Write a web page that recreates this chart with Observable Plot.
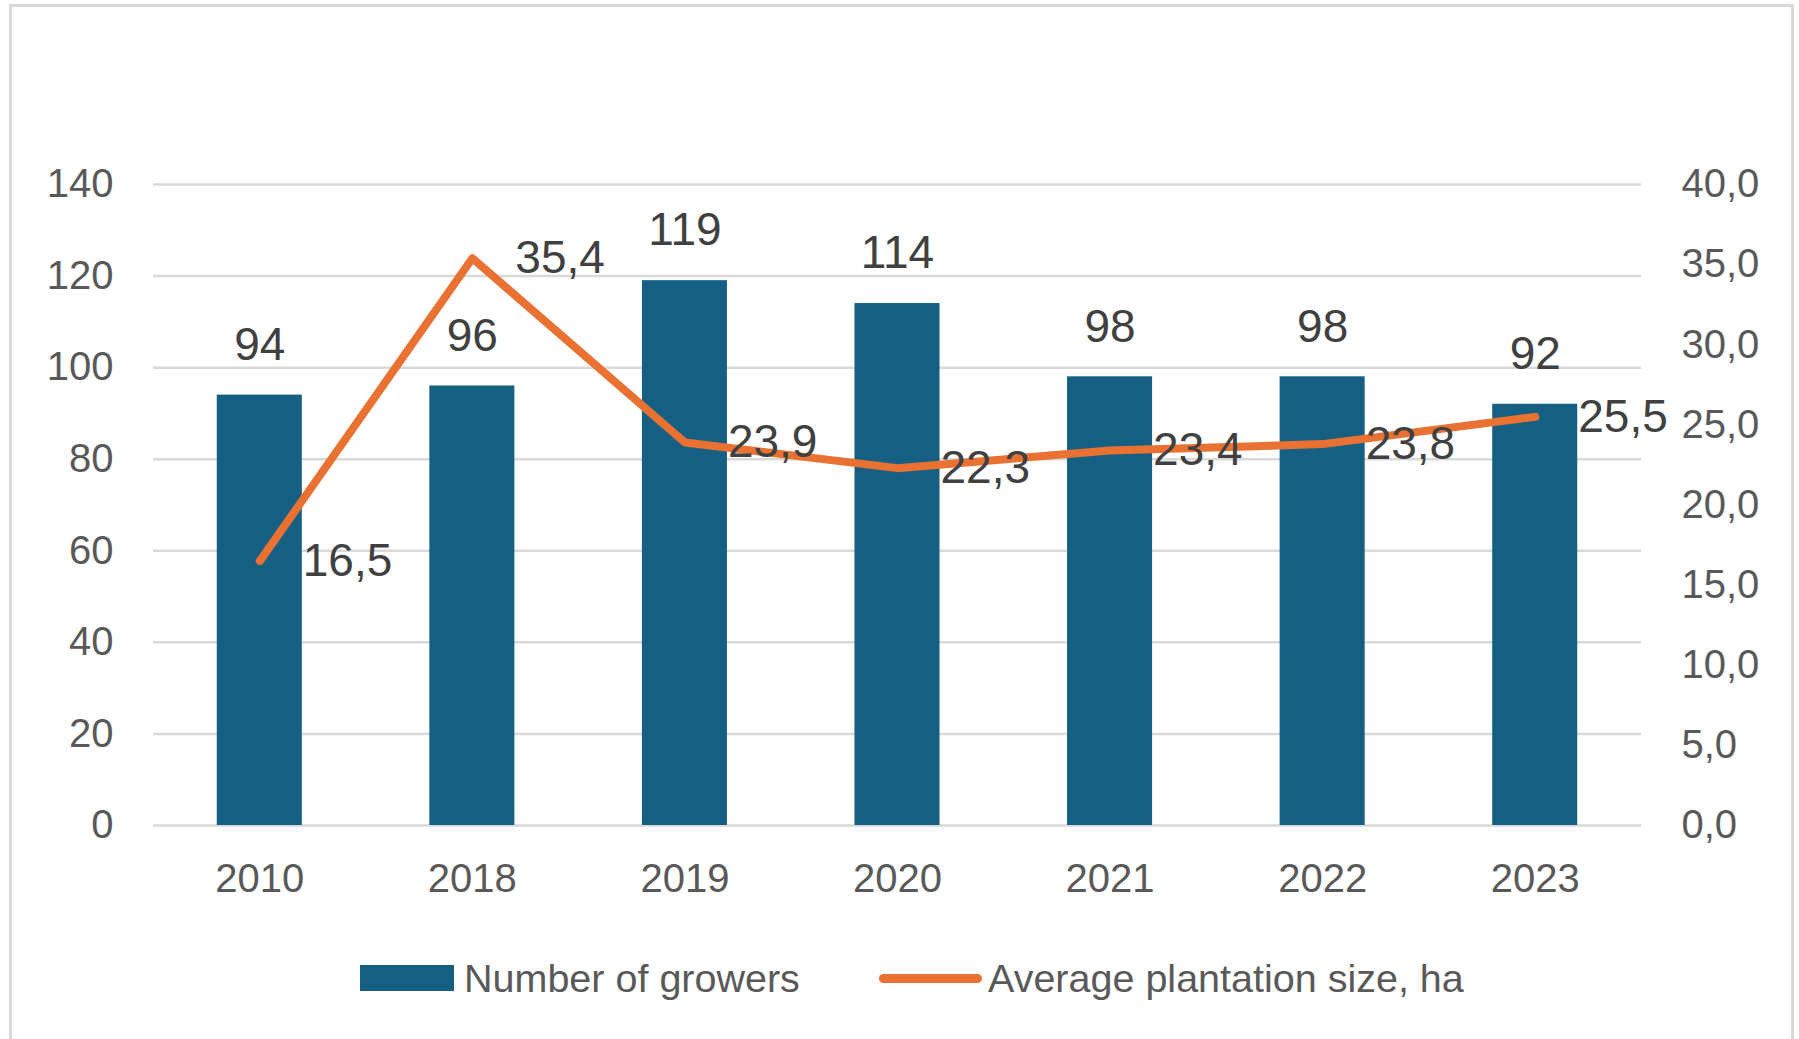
<!DOCTYPE html>
<html>
<head>
<meta charset="utf-8">
<script src="https://cdn.jsdelivr.net/npm/d3@7"></script>
<script src="https://cdn.jsdelivr.net/npm/@observablehq/plot@0.6"></script>
<style>
  html, body { margin: 0; padding: 0; background: #fff; }
  body { width: 1799px; height: 1039px; position: relative; overflow: hidden; font-family: "Liberation Sans", Arial, sans-serif; }
  #frame { position: absolute; left: 9px; top: 4px; width: 1785px; height: 1100px; border: 3px solid #d9d9d9; box-sizing: border-box; }
  #chart { position: absolute; left: 0; top: 0; }
  #legend { position: absolute; left: 0; top: 958px; width: 1799px; height: 40px; font-family: "Liberation Sans", Arial, sans-serif; font-size: 39.5px; color: #595959; }
  .lg { position: absolute; top: 0; display: flex; align-items: center; height: 40px; white-space: nowrap; }
</style>
</head>
<body>
<div id="frame"></div>
<div id="chart"></div>
<div id="legend"></div>
<script>
const years = ["2010", "2018", "2019", "2020", "2021", "2022", "2023"];
const growers = [94, 96, 119, 114, 98, 98, 92];
const avgSize = [16.5, 35.4, 23.9, 22.3, 23.4, 23.8, 25.5];
const leftTicks = [0, 20, 40, 60, 80, 100, 120, 140];
const rightTicks = [0, 5, 10, 15, 20, 25, 30, 35, 40];
const seriesNames = ["Number of growers", "Average plantation size, ha"];

const barColor = "#156082";
const lineColor = "#E97132";
const leftMax = 140, rightMax = 40;
const ratio = leftMax / rightMax;

const data = years.map((y, i) => ({year: y, growers: growers[i], size: avgSize[i], sizeScaled: avgSize[i] * ratio}));
const fmt = v => v.toFixed(1).replace(".", ",");

const W = 1799, H = 930;
const chart = Plot.plot({
  width: W,
  height: H,
  marginLeft: 153,
  marginRight: 158,
  marginTop: 184,
  marginBottom: H - 825,
  style: {fontFamily: "'Liberation Sans', Arial, sans-serif", color: "#595959", background: "transparent"},
  x: {domain: years, paddingInner: 0.6, paddingOuter: 0.3, round: false},
  y: {domain: [0, leftMax]},
  marks: [
    Plot.gridY(leftTicks, {stroke: "#d9d9d9", strokeOpacity: 1, strokeWidth: 2.5}),
    Plot.barY(data, {x: "year", y: "growers", fill: barColor}),
    Plot.line(data, {x: "year", y: "sizeScaled", stroke: lineColor, strokeWidth: 8, strokeLinejoin: "round", strokeLinecap: "round"}),
    Plot.text(data, {x: "year", y: "growers", text: d => String(d.growers), dy: -50, fontSize: 46, fill: "#404040"}),
    Plot.text(data, {x: "year", y: "sizeScaled", text: d => fmt(d.size), dx: 43, textAnchor: "start", fontSize: 46, fill: "#404040"}),
    Plot.axisY(leftTicks, {anchor: "left", tickSize: 0, tickPadding: 40, fontSize: 40, label: null}),
    Plot.axisY(rightTicks.map(v => v * ratio), {anchor: "right", tickSize: 0, tickPadding: 40, fontSize: 40, label: null, tickFormat: v => fmt(v / ratio)}),
    Plot.axisX({tickSize: 0, tickPadding: 38, fontSize: 40, label: null})
  ]
});
document.getElementById("chart").appendChild(chart);

const legend = document.getElementById("legend");
const items = [
  {left: 360, swatch: `<div style="width:94px;height:26px;background:${barColor};margin-right:10px"></div>`, name: seriesNames[0]},
  {left: 879, swatch: `<div style="width:103px;height:9px;border-radius:5px;background:${lineColor};margin-right:6px"></div>`, name: seriesNames[1]}
];
for (const it of items) {
  const el = document.createElement("div");
  el.className = "lg";
  el.style.left = it.left + "px";
  el.innerHTML = it.swatch + `<span>${it.name}</span>`;
  legend.appendChild(el);
}
</script>
</body>
</html>
